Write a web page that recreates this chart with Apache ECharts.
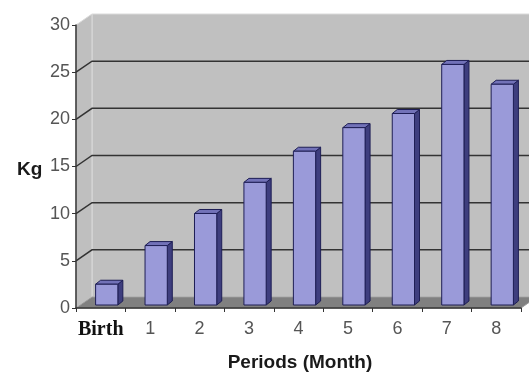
<!DOCTYPE html>
<html>
<head>
<meta charset="utf-8">
<script src="https://cdn.jsdelivr.net/npm/echarts@6/dist/echarts.min.js"></script>
<style>
html, body { margin: 0; padding: 0; background: #fff; }
#main { width: 529px; height: 372px; }
</style>
</head>
<body>
<div id="main"></div>
<script>
var periods = ['Birth', '1', '2', '3', '4', '5', '6', '7', '8'];
var weights = [2.2, 6.3, 9.7, 13.0, 16.3, 18.8, 20.3, 25.5, 23.4];
var yTicks = [0, 5, 10, 15, 20, 25, 30];

// pseudo 3d offsets (px)
var DEPTH = [16, -11];
var BAR_OFF = [6, -3];
var BAR_DEPTH = [5, -4];

var chart = echarts.init(document.getElementById('main'));

var renderWalls = function (params, api) {
    var cs = params.coordSys;
    var x0 = cs.x, x1 = cs.x + cs.width, yT = cs.y, yB = cs.y + cs.height;
    var dx = DEPTH[0], dy = DEPTH[1];
    return {
        type: 'group',
        children: [{
            type: 'rect',
            shape: {x: x0 + dx, y: yT + dy, width: cs.width, height: cs.height},
            style: {fill: '#c0c0c0', stroke: '#dadada', lineWidth: 1}
        }, {
            type: 'polygon',
            shape: {points: [[x0, yT], [x0 + dx, yT + dy], [x0 + dx, yB + dy], [x0, yB]]},
            style: {fill: '#bfbfbf', stroke: '#dadada', lineWidth: 1}
        }, {
            type: 'polygon',
            shape: {points: [[x0, yB], [x1, yB], [x1 + dx, yB + dy], [x0 + dx, yB + dy]]},
            style: {fill: '#808080', stroke: '#9a9a9a', lineWidth: 1}
        }]
    };
};

var renderGrid = function (params, api) {
    var cs = params.coordSys;
    var y = api.coord([0, api.value(1)])[1];
    var x0 = cs.x, x1 = cs.x + cs.width;
    return {
        type: 'polyline',
        shape: {points: [[x0, y], [x0 + DEPTH[0], y + DEPTH[1]], [x1 + DEPTH[0], y + DEPTH[1]]]},
        style: {stroke: '#333333', lineWidth: 1.5, fill: null}
    };
};

var renderBar = function (params, api) {
    var idx = api.value(0), val = api.value(1);
    var base = api.coord([idx, 0]);
    var top = api.coord([idx, val]);
    var w = api.size([1, 0])[0] * 0.45;
    var l = base[0] + BAR_OFF[0] - w / 2, r = l + w;
    var yb = base[1] + BAR_OFF[1], yt = top[1] + BAR_OFF[1];
    var dx = BAR_DEPTH[0], dy = BAR_DEPTH[1];
    var edge = '#1e1e55';
    return {
        type: 'group',
        children: [{
            type: 'polygon',
            shape: {points: [[r, yt], [r + dx, yt + dy], [r + dx, yb + dy], [r, yb]]},
            style: {fill: '#3e3e7e', stroke: edge, lineWidth: 1}
        }, {
            type: 'polygon',
            shape: {points: [[l, yt], [l + dx, yt + dy], [r + dx, yt + dy], [r, yt]]},
            style: {fill: '#7272b8', stroke: edge, lineWidth: 1}
        }, {
            type: 'rect',
            shape: {x: l, y: yt, width: w, height: yb - yt},
            style: {fill: '#9a9ad9', stroke: edge, lineWidth: 1}
        }]
    };
};

var option = {
    animation: false,
    backgroundColor: '#ffffff',
    textStyle: {fontFamily: 'Liberation Sans'},
    title: [{
        text: 'Kg',
        left: 12,
        top: 155,
        textStyle: {fontSize: 19, fontWeight: 'bold', color: '#1a1a1a', fontFamily: 'Liberation Sans'}
    }, {
        text: 'Periods (Month)',
        left: 295,
        textAlign: 'center',
        top: 348,
        textStyle: {fontSize: 19, fontWeight: 'bold', color: '#1a1a1a', fontFamily: 'Liberation Sans'}
    }],
    grid: {left: 76, top: 25, width: 445, height: 283},
    xAxis: {
        type: 'category',
        data: periods,
        boundaryGap: true,
        axisLine: {show: true, lineStyle: {color: '#333333', width: 1.5}},
        axisTick: {show: true, length: 4, interval: 0, lineStyle: {color: '#333333'}},
        axisLabel: {
            interval: 0,
            fontSize: 18,
            color: '#555555',
            margin: 12,
            formatter: function (v) {
                return v === 'Birth' ? '{b|Birth}' : v;
            },
            rich: {
                b: {fontFamily: 'Liberation Serif', fontWeight: 'bold', fontSize: 20, color: '#111111'}
            }
        },
        splitLine: {show: false}
    },
    yAxis: {
        type: 'value',
        min: yTicks[0],
        max: yTicks[yTicks.length - 1],
        interval: yTicks[1] - yTicks[0],
        axisLine: {show: true, lineStyle: {color: '#333333', width: 1.5}},
        axisTick: {show: true, length: 4, lineStyle: {color: '#333333'}},
        axisLabel: {fontSize: 18, color: '#555555', margin: 6},
        splitLine: {show: false}
    },
    series: [{
        type: 'custom',
        z: -2,
        silent: true,
        renderItem: renderWalls,
        data: [[0, 0]]
    }, {
        type: 'custom',
        z: -1,
        silent: true,
        renderItem: renderGrid,
        data: yTicks.slice(1, -1).map(function (v) {
            return [0, v];
        })
    }, {
        type: 'custom',
        z: 2,
        renderItem: renderBar,
        data: weights.map(function (v, i) {
            return [i, v];
        })
    }]
};

chart.setOption(option);
</script>
</body>
</html>
